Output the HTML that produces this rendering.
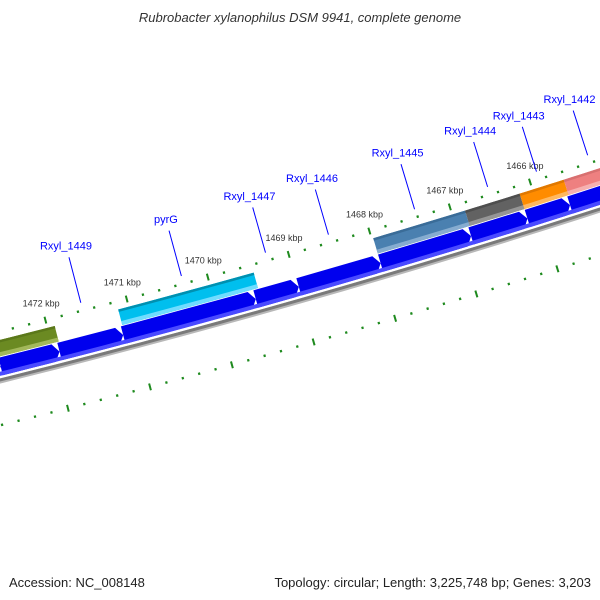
<!DOCTYPE html>
<html><head><meta charset="utf-8"><style>
html,body{margin:0;padding:0;background:#fff;}
svg{display:block;font-family:"Liberation Sans",sans-serif;}
</style></head><body>
<svg id="map" width="600" height="600" viewBox="0 0 600 600">
<text x="300" y="22" text-anchor="middle" font-size="13" font-style="italic" fill="#333">Rubrobacter xylanophilus DSM 9941, complete genome</text>
<g id="plot"></g>
<text x="9" y="587" font-size="13" fill="#222">Accession: NC_008148</text>
<text x="591" y="587" text-anchor="end" font-size="13" fill="#222">Topology: circular; Length: 3,225,748 bp; Genes: 3,203</text>
</svg>
<script>
// data (kbp positions)
const forwardStarts = [1473.5, 1472.65, 1471.93, 1471.15, 1469.52, 1468.99, 1467.98, 1466.86, 1466.16, 1465.63];
const forwardEnds   = [1472.65, 1471.93, 1471.15, 1469.52, 1468.99, 1467.98, 1466.86, 1466.16, 1465.63, 1464.5];
const reverseStarts = [1473.5, 1471.13, 1467.98, 1466.84, 1466.16, 1465.61];
const reverseEnds   = [1471.91, 1469.46, 1466.84, 1466.16, 1465.61, 1464.89];
const reverseColors = [["#6b8a22","#5b781a","#a2b85a"],["#00bfee","#0090b0","#70dcff"],["#4a80b0","#3a6c98","#86acd0"],["#626262","#4e4e4e","#959595"],["#ff8c00","#e07800","#ffb860"],["#ee8080","#d87070","#f6b0b0"]];
const labelNames = ["Rxyl_1449","pyrG","Rxyl_1447","Rxyl_1446","Rxyl_1445","Rxyl_1444","Rxyl_1443","Rxyl_1442"];
const labelAnchors = [1471.54, 1470.30, 1469.26, 1468.48, 1467.41, 1466.50, 1465.89, 1465.25];
const tickLabels = [1472, 1471, 1470, 1469, 1468, 1467, 1466];

const NS = "http://www.w3.org/2000/svg";
const plot = document.getElementById("plot");
const CX = -2214, CY = -8529, R = 9180;
const A0 = 14.85, REF = 1471, DEG_PER_KBP = 0.527;
function ang(k){ return (A0 + (REF - k) * DEG_PER_KBP) * Math.PI / 180; }
function P(r, a){ return [CX + r * Math.sin(a), CY + r * Math.cos(a)]; }
function poly(pts){ return "M" + pts.map(p => p[0].toFixed(2) + "," + p[1].toFixed(2)).join("L") + "Z"; }
function band(k1, k2, ri, ro){
  const a1 = ang(k1), a2 = ang(k2), n = 6, pts = [];
  for (let i = 0; i <= n; i++) pts.push(P(ri, a1 + (a2 - a1) * i / n));
  for (let i = n; i >= 0; i--) pts.push(P(ro, a1 + (a2 - a1) * i / n));
  return poly(pts);
}
function mk(tag, attrs){ const e = document.createElementNS(NS, tag); for (const k in attrs) e.setAttribute(k, attrs[k]); plot.appendChild(e); return e; }

// backbone
{
  const a1 = ang(1474), a2 = ang(1464), pts = [];
  for (let i = 0; i <= 20; i++) pts.push(P(R, a1 + (a2 - a1) * i / 20));
  const d = "M" + pts.map(p => p[0].toFixed(2) + "," + p[1].toFixed(2)).join("L");
  const b2 = mk("path", {d: d, fill: "none", stroke: "#b8b8b8", "stroke-width": 5, transform: "translate(0,1)"});
  
  
  const b = mk("path", {d: d, fill: "none", stroke: "#7a7a7a", "stroke-width": 3});
  
  
}

// ticks
function tickRing(r, prefix){
  for (let i = 0; i <= 50; i++) {
    const k = 1474 - i * 0.2;
    const a = ang(k);
    const major = i % 5 === 0;
    const p1 = P(r - (major ? 3.5 : 1.2), a), p2 = P(r + (major ? 3.5 : 1.2), a);
    const t = mk("line", {x1: p1[0], y1: p1[1], x2: p2[0], y2: p2[1], stroke: "#1e8a1e", "stroke-width": major ? 2 : 2.2});
    
    
  }
}
tickRing(9133, 'outer');
tickRing(9224, 'inner');
tickLabels.forEach(k => {
  const p = P(9116, ang(k));
  const t = mk("text", {x: p[0], y: p[1] + 3, "text-anchor": "middle", "font-size": 9, fill: "#333"});
  t.textContent = k + " kbp";
  
  
});

// forward genes (blue arrows)
forwardStarts.forEach((s, i) => {
  const e = forwardEnds[i];
  const ri = R - 22, ro = R - 4, rm = (ri + ro) / 2;
  const a1 = ang(s), a2 = ang(e), h = 6 / R;
  const d = poly([P(ri, a1), P(ri, a2 - h), P(rm, a2), P(ro, a2 - h), P(ro, a1)]);
  const g = mk("path", {d: d, fill: "#0000ee"});
  
  
  const st = mk("path", {d: band(s, e, ro - 4, ro), fill: "#4a4aff"});
  
  
  // small gap at the start
  const gp = P(rm, a1);
});

// reverse genes (coloured)
reverseStarts.forEach((s, i) => {
  const e = reverseEnds[i], c = reverseColors[i];
  const ri = R - 39, ro = R - 23;
  const g = mk("path", {d: band(s, e, ri, ro), fill: c[0]});
  
  
  const top = mk("path", {d: band(s, e, ri, ri + 2.5), fill: c[1]});
  
  
  const bot = mk("path", {d: band(s, e, ro - 4, ro), fill: c[2]});
  
  
});

// feature labels
labelNames.forEach((n, i) => {
  const a = ang(labelAnchors[i]);
  const p1 = P(9125, a), p2 = P(9078, a), pt = P(9066, a);
  const l = mk("line", {x1: p1[0], y1: p1[1], x2: p2[0], y2: p2[1], stroke: "#0000ff", "stroke-width": 1});
  
  
  const t = mk("text", {x: pt[0], y: pt[1] + 4, "text-anchor": "middle", "font-size": 11, fill: "#0000ff"});
  t.textContent = n;
  
  
});
</script>
</body></html>
